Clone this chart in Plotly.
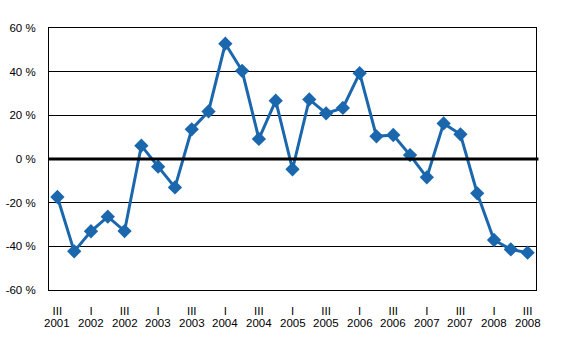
import plotly.graph_objects as go

quarters = ["III","IV","I","II","III","IV","I","II","III","IV","I","II","III","IV","I","II",
            "III","IV","I","II","III","IV","I","II","III","IV","I","II","III"]
years = [2001,2001,2002,2002,2002,2002,2003,2003,2003,2003,2004,2004,2004,2004,2005,2005,
         2005,2005,2006,2006,2006,2006,2007,2007,2007,2007,2008,2008,2008]
values = [-17.4,-42.3,-33.1,-26.4,-33.0,6.1,-3.5,-13.0,13.6,21.8,52.8,40.4,9.2,26.7,-4.7,27.3,
          20.9,23.4,39.3,10.4,11.0,1.8,-8.4,16.3,11.3,-15.7,-37.1,-41.4,-42.9]
y_ticks = [-60,-40,-20,0,20,40,60]
y_labels = ["-60 %","-40 %","-20 %","0 %","20 %","40 %","60 %"]

xs = list(range(len(values)))
FONT = "Liberation Sans, Arial, sans-serif"

fig = go.Figure()
fig.add_trace(go.Scatter(
    x=xs, y=values, mode="lines+markers",
    line=dict(color="#1b67ad", width=3),
    marker=dict(symbol="diamond", size=11, color="#1b67ad"),
    showlegend=False, hoverinfo="skip"))

# zero line
fig.add_shape(type="line", xref="paper", yref="y", x0=0, x1=1.005, y0=0, y1=0,
              line=dict(color="black", width=3), layer="above")

shown = xs[::2]
for i in shown:
    fig.add_annotation(x=i, y=0, xref="x", yref="paper", text=str(years[i]),
                       showarrow=False, font=dict(family=FONT, size=11.5, color="black"),
                       yanchor="middle", yshift=-33)

fig.update_layout(
    width=565, height=352,
    margin=dict(l=49, r=29, t=28, b=62, autoexpand=False),
    paper_bgcolor="white", plot_bgcolor="white",
    font=dict(family=FONT, size=11.5, color="black"),
    xaxis=dict(range=[-0.5, len(values)-0.5], tickmode="array", tickvals=shown,
               ticktext=[quarters[i] for i in shown], showgrid=False, zeroline=False,
               showline=True, linecolor="black", linewidth=1, mirror=True,
               ticks="", ticklabelstandoff=10, automargin=False),
    yaxis=dict(range=[-60, 60], tickmode="array", tickvals=y_ticks, ticktext=y_labels,
               showgrid=True, gridcolor="black", gridwidth=1, zeroline=False,
               showline=True, linecolor="black", linewidth=1, mirror=True,
               ticks="", ticklabelstandoff=10, automargin=False),
)
fig.write_html("out.html")
